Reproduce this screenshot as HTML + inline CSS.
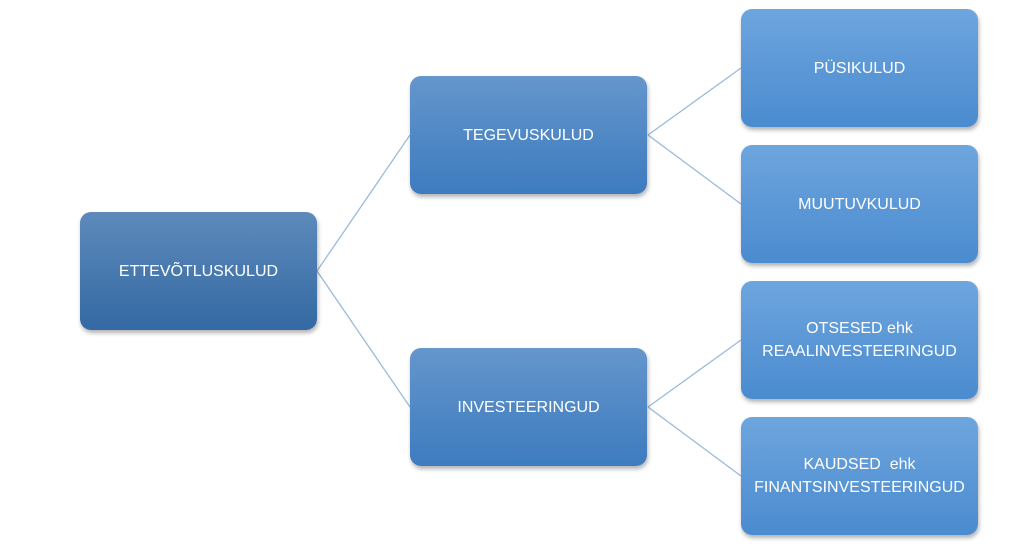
<!DOCTYPE html>
<html><head><style>
body{margin:0;width:1024px;height:546px;background:#fff;position:relative;overflow:hidden;font-family:"Liberation Sans",sans-serif}
.b{position:absolute;width:237px;height:118px;border-radius:11px;color:#fff;display:flex;align-items:center;justify-content:center;text-align:center;font-size:16px;line-height:23px;box-shadow:1px 3px 4px rgba(0,0,0,.3)}
.l1{background:linear-gradient(#5d8abb,#3469a3)}
.l2{background:linear-gradient(#6596cc,#3d7bbf)}
.l3{background:linear-gradient(#6ea5de,#4a8bcf)}
svg{position:absolute;left:0;top:0}
</style></head><body>
<svg width="1024" height="546"><g stroke="#9bbadd" stroke-width="1.3" fill="none">
<line x1="317" y1="271" x2="410" y2="135"/><line x1="317" y1="271" x2="410" y2="407"/>
<line x1="648" y1="135" x2="741" y2="68"/><line x1="648" y1="135" x2="741" y2="204"/>
<line x1="648" y1="407" x2="741" y2="340"/><line x1="648" y1="407" x2="741" y2="476"/>
</g></svg>
<div class="b l1" style="left:80px;top:212px">ETTEVÕTLUSKULUD</div>
<div class="b l2" style="left:410px;top:76px">TEGEVUSKULUD</div>
<div class="b l2" style="left:410px;top:348px">INVESTEERINGUD</div>
<div class="b l3" style="left:741px;top:9px">PÜSIKULUD</div>
<div class="b l3" style="left:741px;top:145px">MUUTUVKULUD</div>
<div class="b l3" style="left:741px;top:281px">OTSESED ehk<br>REAALINVESTEERINGUD</div>
<div class="b l3" style="left:741px;top:417px">KAUDSED&nbsp; ehk<br>FINANTSINVESTEERINGUD</div>
</body></html>
